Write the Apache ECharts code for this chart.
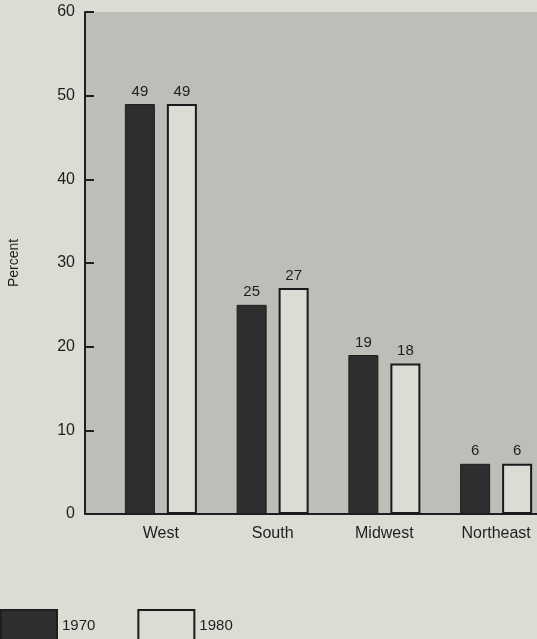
<!DOCTYPE html>
<html>
<head>
<meta charset="utf-8">
<script src="https://cdn.jsdelivr.net/npm/echarts@6/dist/echarts.min.js"></script>
<style>
  html, body { margin: 0; padding: 0; background: #dcdcd5; }
  #chart { width: 537px; height: 639px; }
</style>
</head>
<body>
<div id="chart"></div>
<script>
// data
var regions = ['West', 'South', 'Midwest', 'Northeast'];
var years = ['1970', '1980'];
var values1970 = [49, 25, 19, 6];
var values1980 = [49, 27, 18, 6];
var yTicks = [0, 10, 20, 30, 40, 50, 60];

// layout
var axisX = 85;      // where the y axis line sits
var gridLeft = 105;  // category bands start a bit right of the axis
var gridTop = 12;
var gridBottom = 125;
var W = 537, H = 639;

var font = '"Liberation Sans", Arial, sans-serif';
var ink = '#1e1e1e';

var chart = echarts.init(document.getElementById('chart'), null, { renderer: 'canvas' });

chart.setOption({
  backgroundColor: '#dcdcd5',
  animation: false,
  textStyle: { fontFamily: font, color: ink },
  grid: { left: gridLeft, right: -15, top: gridTop, bottom: gridBottom, outerBoundsMode: 'none', containLabel: false },
  graphic: [
    { type: 'rect', z: -10, silent: true,
      shape: { x: axisX, y: gridTop, width: W - axisX, height: H - gridBottom - gridTop },
      style: { fill: '#bebdb8' } },
    { type: 'line', z: 10, silent: true,
      shape: { x1: axisX, y1: H - gridBottom, x2: gridLeft + 1, y2: H - gridBottom },
      style: { stroke: ink, lineWidth: 2 } }
  ],
  legend: {
    left: 0, top: 609, padding: 0, itemWidth: 56, itemHeight: 32, itemGap: 42,
    icon: 'rect',
    data: years,
    textStyle: { fontFamily: font, fontSize: 15, color: ink },
    selectedMode: false
  },
  xAxis: {
    type: 'category',
    data: regions,
    axisLine: { lineStyle: { color: ink, width: 2 } },
    axisTick: { show: false },
    axisLabel: { fontSize: 16, color: ink, margin: 12, fontFamily: font }
  },
  yAxis: {
    type: 'value',
    min: yTicks[0], max: yTicks[yTicks.length - 1], interval: 10,
    offset: gridLeft - axisX,
    name: 'Percent',
    nameLocation: 'middle',
    nameGap: 64,
    nameRotate: 90,
    nameTextStyle: { fontSize: 14, color: ink, fontFamily: font },
    axisLine: { show: true, lineStyle: { color: ink, width: 2 } },
    axisTick: { show: true, inside: true, length: 9, lineStyle: { color: ink, width: 2 } },
    axisLabel: { fontSize: 16, color: ink, margin: 10, fontFamily: font },
    splitLine: { show: false }
  },
  series: [
    {
      name: years[0], type: 'bar', data: values1970,
      barWidth: 30, barGap: '40%',
      itemStyle: { color: '#2e2e2e', borderColor: '#1e1e1e', borderWidth: 1 },
      label: { show: true, position: 'top', distance: 5, fontSize: 15, color: ink, fontFamily: font }
    },
    {
      name: years[1], type: 'bar', data: values1980,
      barWidth: 30,
      itemStyle: { color: '#dcdcd5', borderColor: '#1a1a1a', borderWidth: 2 },
      label: { show: true, position: 'top', distance: 5, fontSize: 15, color: ink, fontFamily: font }
    }
  ]
});
</script>
</body>
</html>
